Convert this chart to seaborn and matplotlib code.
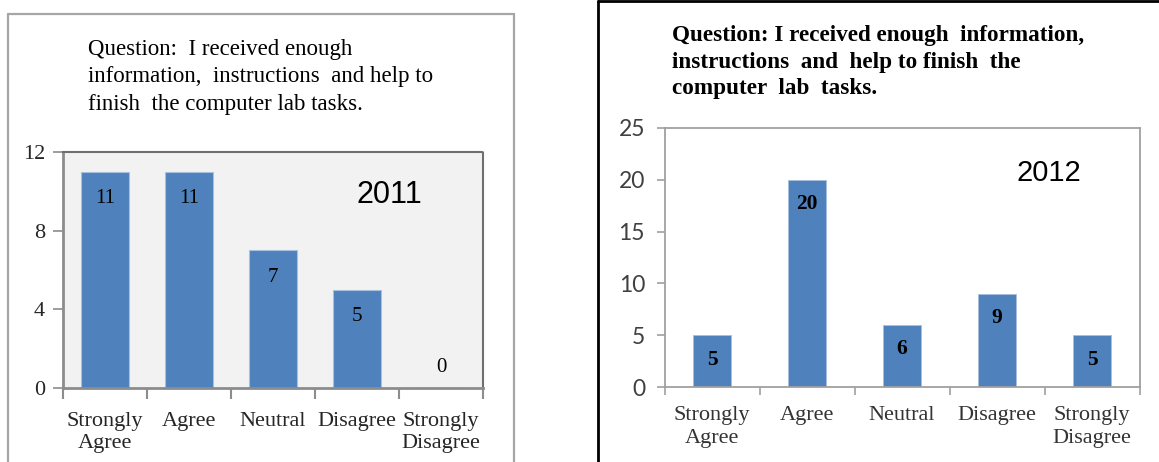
import matplotlib
matplotlib.use("Agg")
import matplotlib.pyplot as plt
from matplotlib.lines import Line2D
from matplotlib.ticker import FixedLocator
import seaborn as sns
import pandas as pd

categories = ["Strongly\nAgree", "Agree", "Neutral", "Disagree", "Strongly\nDisagree"]
values_2011 = [11, 11, 7, 5, 0]
values_2012 = [5, 20, 6, 9, 5]
title_2011 = "Question:  I received enough\ninformation,  instructions  and help to\nfinish  the computer lab tasks."
title_2012 = "Question: I received enough  information,\ninstructions  and  help to finish  the\ncomputer  lab  tasks."
yticks_2011 = [0, 4, 8, 12]
yticks_2012 = [0, 5, 10, 15, 20, 25]

sns.set_theme(style="white")
plt.rcParams["font.family"] = ["Liberation Serif", "DejaVu Serif"]

W, H = 1159, 462
fig = plt.figure(figsize=(W / 100, H / 100), dpi=100)
fig.patch.set_facecolor("white")

BAR = "#4f81bd"

def fx(px):
    return px / W

def fy(py):
    return 1 - py / H

# ---------- panel borders ----------
gray_b = "#a6a6a6"
fig.add_artist(Line2D([fx(8), fx(8)], [fy(14), fy(470)], color=gray_b, lw=1.6))
fig.add_artist(Line2D([fx(8), fx(514)], [fy(14), fy(14)], color=gray_b, lw=1.6))
fig.add_artist(Line2D([fx(514), fx(514)], [fy(14), fy(470)], color=gray_b, lw=1.6))
fig.add_artist(Line2D([fx(598), fx(598)], [fy(1), fy(470)], color="black", lw=2.0))
fig.add_artist(Line2D([fx(598), fx(1165)], [fy(1.2), fy(1.2)], color="black", lw=2.0))

# ---------- left panel (2011) ----------
ax1 = fig.add_axes([fx(63), fy(388), fx(483 - 63), (388 - 152) / H])
df1 = pd.DataFrame({"cat": categories, "val": values_2011})
sns.barplot(data=df1, x="cat", y="val", color=BAR, width=0.57, ax=ax1,
            edgecolor="#a7c0de", linewidth=0.8, saturation=1)
ax1.set_facecolor("#f2f2f2")
ax1.set_xlim(-0.5, 4.5)
ax1.set_ylim(0, 12)
ax1.set_yticks(yticks_2011)
ax1.set_yticklabels([str(v) for v in yticks_2011], fontsize=16, family="Liberation Serif")
ax1.set_xlabel("")
ax1.set_ylabel("")
ax1.xaxis.set_minor_locator(FixedLocator([-0.5, 0.5, 1.5, 2.5, 3.5, 4.5]))
ax1.tick_params(axis="x", which="major", length=0, pad=17, labelsize=16)
ax1.tick_params(axis="x", which="minor", length=8, width=1.5, color="#8c8c8c", direction="out", bottom=True)
ax1.tick_params(axis="y", length=7, width=1.2, color="#8c8c8c", direction="out", left=True, pad=6)
for lab in ax1.get_xticklabels():
    lab.set_linespacing(1.25)
for s in ["left", "bottom"]:
    ax1.spines[s].set_visible(True)
    ax1.spines[s].set_color("#8c8c8c")
    ax1.spines[s].set_linewidth(2)
for s in ["top", "right"]:
    ax1.spines[s].set_visible(True)
    ax1.spines[s].set_color("#6f6f6f")
    ax1.spines[s].set_linewidth(1.5)
    ax1.spines[s].set_linestyle((0, (1, 1)))
for i, v in enumerate(values_2011):
    off = -19.5 if v > 0 else 15
    ax1.annotate(str(v), (i, v), xytext=(0, off), textcoords="offset points",
                 ha="center", va="center", fontsize=15, color="black",
                 family="Liberation Serif")
ax1.text(0.776, 0.818, "2011", transform=ax1.transAxes, ha="center", va="center",
         fontsize=22, family="Liberation Sans", color="black")
fig.text(fx(88), fy(39), title_2011, ha="left", va="top", fontsize=16.5,
         family="Liberation Serif", linespacing=1.4, color="black")

# ---------- right panel (2012) ----------
ax2 = fig.add_axes([fx(664.5), fy(387), fx(1139.5 - 664.5), (387 - 128) / H])
df2 = pd.DataFrame({"cat": categories, "val": values_2012})
sns.barplot(data=df2, x="cat", y="val", color=BAR, width=0.40, ax=ax2,
            edgecolor="#a7c0de", linewidth=0.6, saturation=1)
ax2.set_facecolor("white")
ax2.set_xlim(-0.5, 4.5)
ax2.set_ylim(0, 25)
ax2.set_yticks(yticks_2012)
ax2.set_yticklabels([str(v) for v in yticks_2012], fontsize=16.5, family="Lato", color="#404040")
ax2.set_xlabel("")
ax2.set_ylabel("")
ax2.xaxis.set_minor_locator(FixedLocator([-0.5, 0.5, 1.5, 2.5, 3.5, 4.5]))
ax2.tick_params(axis="x", which="major", length=0, pad=14, labelsize=16)
ax2.tick_params(axis="x", which="minor", length=6, width=1.2, color="#a0a0a0", direction="out", bottom=True)
ax2.tick_params(axis="y", length=6, width=1.2, color="#a0a0a0", direction="out", left=True, pad=8)
for lab in ax2.get_xticklabels():
    lab.set_linespacing(1.25)
    lab.set_color("#333333")
for s in ["left", "bottom", "top", "right"]:
    ax2.spines[s].set_visible(True)
    ax2.spines[s].set_color("#a0a0a0")
    ax2.spines[s].set_linewidth(1.3)
for i, v in enumerate(values_2012):
    ax2.annotate(str(v), (i, v), xytext=(0, -17.5), textcoords="offset points",
                 ha="center", va="center", fontsize=15.5, fontweight="bold",
                 color="black", family="Liberation Serif")
ax2.text(0.81, 0.826, "2012", transform=ax2.transAxes, ha="center", va="center",
         fontsize=21, family="Liberation Sans", color="black")
fig.text(fx(672), fy(25), title_2012, ha="left", va="top", fontsize=16.7,
         fontweight="bold", family="Liberation Serif", linespacing=1.35, color="black")

fig.savefig("out.png", dpi=100)
